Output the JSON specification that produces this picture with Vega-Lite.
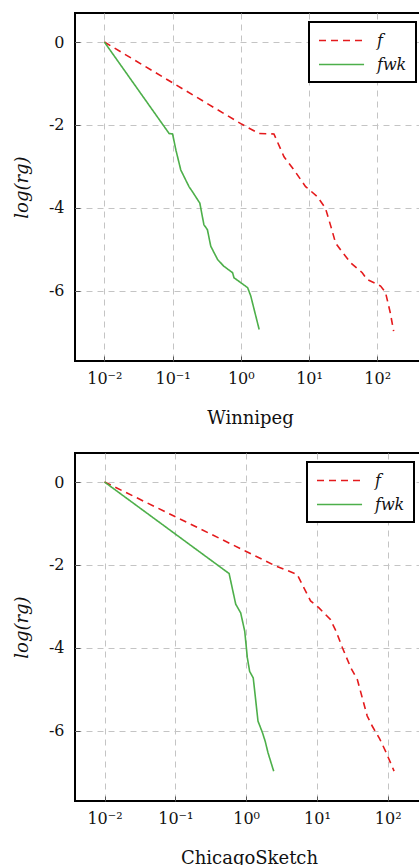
{
  "$schema": "https://vega.github.io/schema/vega-lite/v6.json",
  "padding": {"left": 12, "top": 12, "right": 0, "bottom": 0},
  "background": "white",
  "spacing": 24,
  "datasets": {
    "winnipeg": [
      {"x": 0.01, "y": 0, "series": "f"},
      {"x": 1, "y": -1.97, "series": "f"},
      {"x": 1.85, "y": -2.21, "series": "f"},
      {"x": 3.06, "y": -2.22, "series": "f"},
      {"x": 4.3, "y": -2.77, "series": "f"},
      {"x": 6.03, "y": -3.09, "series": "f"},
      {"x": 8.91, "y": -3.49, "series": "f"},
      {"x": 13.2, "y": -3.73, "series": "f"},
      {"x": 17.4, "y": -4.01, "series": "f"},
      {"x": 20.9, "y": -4.45, "series": "f"},
      {"x": 24.5, "y": -4.85, "series": "f"},
      {"x": 28.8, "y": -5.01, "series": "f"},
      {"x": 40.7, "y": -5.33, "series": "f"},
      {"x": 60.3, "y": -5.57, "series": "f"},
      {"x": 70.8, "y": -5.73, "series": "f"},
      {"x": 112, "y": -5.89, "series": "f"},
      {"x": 132, "y": -6.04, "series": "f"},
      {"x": 155, "y": -6.53, "series": "f"},
      {"x": 174, "y": -6.98, "series": "f"},
      {"x": 0.01, "y": 0, "series": "fwk"},
      {"x": 0.0891, "y": -2.21, "series": "fwk"},
      {"x": 0.1, "y": -2.22, "series": "fwk"},
      {"x": 0.112, "y": -2.61, "series": "fwk"},
      {"x": 0.132, "y": -3.09, "series": "fwk"},
      {"x": 0.174, "y": -3.49, "series": "fwk"},
      {"x": 0.195, "y": -3.61, "series": "fwk"},
      {"x": 0.251, "y": -3.89, "series": "fwk"},
      {"x": 0.288, "y": -4.41, "series": "fwk"},
      {"x": 0.324, "y": -4.53, "series": "fwk"},
      {"x": 0.363, "y": -4.93, "series": "fwk"},
      {"x": 0.457, "y": -5.25, "series": "fwk"},
      {"x": 0.562, "y": -5.41, "series": "fwk"},
      {"x": 0.759, "y": -5.57, "series": "fwk"},
      {"x": 0.794, "y": -5.69, "series": "fwk"},
      {"x": 1.26, "y": -5.93, "series": "fwk"},
      {"x": 1.4, "y": -6.13, "series": "fwk"},
      {"x": 1.86, "y": -6.94, "series": "fwk"}
    ],
    "chicago": [
      {"x": 0.01, "y": 0, "series": "f"},
      {"x": 0.986, "y": -1.67, "series": "f"},
      {"x": 2.63, "y": -2.03, "series": "f"},
      {"x": 5.25, "y": -2.23, "series": "f"},
      {"x": 6.17, "y": -2.47, "series": "f"},
      {"x": 8.13, "y": -2.87, "series": "f"},
      {"x": 10.7, "y": -3.04, "series": "f"},
      {"x": 15.5, "y": -3.32, "series": "f"},
      {"x": 18.6, "y": -3.6, "series": "f"},
      {"x": 22.9, "y": -4.0, "series": "f"},
      {"x": 30.2, "y": -4.49, "series": "f"},
      {"x": 37.2, "y": -4.77, "series": "f"},
      {"x": 43.7, "y": -5.21, "series": "f"},
      {"x": 51.3, "y": -5.65, "series": "f"},
      {"x": 60.3, "y": -5.89, "series": "f"},
      {"x": 75.9, "y": -6.18, "series": "f"},
      {"x": 93.3, "y": -6.5, "series": "f"},
      {"x": 123, "y": -6.98, "series": "f"},
      {"x": 0.01, "y": 0, "series": "fwk"},
      {"x": 0.575, "y": -2.21, "series": "fwk"},
      {"x": 0.713, "y": -2.95, "series": "fwk"},
      {"x": 0.838, "y": -3.16, "series": "fwk"},
      {"x": 0.955, "y": -3.6, "series": "fwk"},
      {"x": 1.04, "y": -4.24, "series": "fwk"},
      {"x": 1.12, "y": -4.57, "series": "fwk"},
      {"x": 1.26, "y": -4.73, "series": "fwk"},
      {"x": 1.37, "y": -5.29, "series": "fwk"},
      {"x": 1.47, "y": -5.77, "series": "fwk"},
      {"x": 1.7, "y": -6.05, "series": "fwk"},
      {"x": 1.86, "y": -6.26, "series": "fwk"},
      {"x": 2.04, "y": -6.54, "series": "fwk"},
      {"x": 2.45, "y": -6.98, "series": "fwk"}
    ]
  },
  "resolve": {
    "scale": {"x": "independent", "color": "independent", "strokeDash": "independent"},
    "legend": {"color": "independent", "strokeDash": "independent"}
  },
  "vconcat": [
    {
      "width": 350,
      "height": 348,
      "data": {"name": "winnipeg"},
      "mark": {"type": "line", "strokeWidth": 1.6},
      "encoding": {
        "x": {
          "field": "x", "type": "quantitative",
          "scale": {"type": "log", "domain": [0.003715, 501.2], "nice": false},
          "axis": {
            "title": "Winnipeg",
            "values": [0.01, 0.1, 1, 10, 100],
            "labelExpr": "datum.value == 0.01 ? '10⁻²' : datum.value == 0.1 ? '10⁻¹' : datum.value == 1 ? '10⁰' : datum.value == 10 ? '10¹' : '10²'"
          }
        },
        "y": {
          "field": "y", "type": "quantitative",
          "scale": {"domain": [-7.7, 0.7], "nice": false, "zero": false},
          "axis": {"title": "log(rg)", "values": [0, -2, -4, -6], "labelExpr": "toString(datum.value)"}
        },
        "color": {
          "field": "series", "type": "nominal",
          "scale": {"domain": ["f", "fwk"], "range": ["#e41a1c", "#4daf4a"]},
          "legend": {"title": null, "orient": "top-right", "offset": 9}
        },
        "strokeDash": {
          "field": "series", "type": "nominal",
          "scale": {"domain": ["f", "fwk"], "range": [[7, 5], [1, 0]]},
          "legend": {"title": null, "orient": "top-right", "offset": 9}
        }
      }
    },
    {
      "width": 348,
      "height": 348,
      "data": {"name": "chicago"},
      "mark": {"type": "line", "strokeWidth": 1.6},
      "encoding": {
        "x": {
          "field": "x", "type": "quantitative",
          "scale": {"type": "log", "domain": [0.003828, 314.8], "nice": false},
          "axis": {
            "title": "ChicagoSketch",
            "values": [0.01, 0.1, 1, 10, 100],
            "labelExpr": "datum.value == 0.01 ? '10⁻²' : datum.value == 0.1 ? '10⁻¹' : datum.value == 1 ? '10⁰' : datum.value == 10 ? '10¹' : '10²'"
          }
        },
        "y": {
          "field": "y", "type": "quantitative",
          "scale": {"domain": [-7.7, 0.7], "nice": false, "zero": false},
          "axis": {"title": "log(rg)", "values": [0, -2, -4, -6], "labelExpr": "toString(datum.value)"}
        },
        "color": {
          "field": "series", "type": "nominal",
          "scale": {"domain": ["f", "fwk"], "range": ["#e41a1c", "#4daf4a"]},
          "legend": {"title": null, "orient": "top-right", "offset": 9}
        },
        "strokeDash": {
          "field": "series", "type": "nominal",
          "scale": {"domain": ["f", "fwk"], "range": [[7, 5], [1, 0]]},
          "legend": {"title": null, "orient": "top-right", "offset": 9}
        }
      }
    }
  ],
  "config": {
    "font": "DejaVu Serif",
    "view": {"stroke": "black", "strokeWidth": 2},
    "axis": {
      "labelFont": "DejaVu Serif",
      "titleFont": "DejaVu Serif",
      "labelFontSize": 16,
      "titleFontSize": 18,
      "titleFontWeight": "normal",
      "labelColor": "#111",
      "titleColor": "#111",
      "domain": false,
      "ticks": true,
      "tickSize": -5,
      "tickColor": "#555",
      "grid": true,
      "gridColor": "#c4c4c4",
      "gridDash": [6, 5],
      "gridWidth": 1
    },
    "axisY": {"titleFontStyle": "italic", "titlePadding": 17, "labelPadding": 16},
    "axisX": {"titlePadding": 23, "labelPadding": 14},
    "legend": {
      "labelFont": "DejaVu Serif",
      "labelFontSize": 16,
      "labelFontStyle": "italic",
      "labelColor": "#111",
      "strokeColor": "black",
      "strokeWidth": 2,
      "fillColor": "white",
      "padding": 9,
      "rowPadding": 6,
      "symbolType": "M-1,0H4.3",
      "symbolSize": 289,
      "symbolStrokeWidth": 1.6,
      "labelOffset": 40,
      "labelLimit": 80
    }
  }
}
